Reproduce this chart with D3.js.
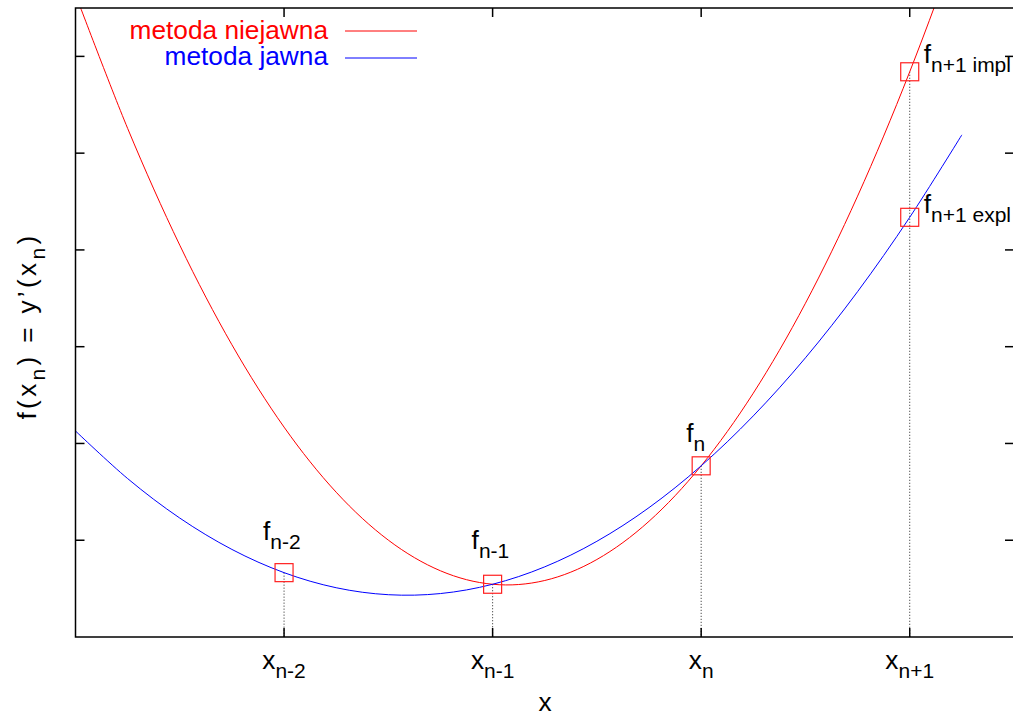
<!DOCTYPE html>
<html>
<head>
<meta charset="utf-8">
<script src="https://cdn.jsdelivr.net/npm/d3@7"></script>
<style>
  html, body { margin: 0; padding: 0; background: #fff; }
  svg { display: block; }
  text { font-family: "Liberation Sans", Arial, Helvetica, sans-serif; }
</style>
</head>
<body>
<svg id="chart" width="1013" height="714"></svg>
<script>
// ---- data ----
const xTicks = [2, 3, 4, 5];
const xTickSubs = ["n-2", "n-1", "n", "n+1"];
const yTicks = [1, 2, 3, 4, 5, 6];

const curveXImplicit = [1, 1.25, 1.5, 1.75, 2, 2.25, 2.5, 2.75, 3, 3.25, 3.5, 3.75, 4, 4.25, 4.5, 4.75, 5, 5.25, 5.5];
const implicitY = [6.641, 5.256, 4.049, 3.020, 2.169, 1.496, 1.001, 0.684, 0.545, 0.584, 0.801, 1.196, 1.769, 2.520, 3.449, 4.556, 5.841, 7.304, 8.945];

const curveXExplicit = [1, 1.25, 1.5, 1.75, 2, 2.25, 2.5, 2.75, 3, 3.25, 3.5, 3.75, 4, 4.25, 4.5, 4.75, 5, 5.25];
const explicitY = [2.129, 1.637, 1.229, 0.905, 0.665, 0.509, 0.437, 0.449, 0.545, 0.725, 0.989, 1.337, 1.769, 2.285, 2.885, 3.569, 4.337, 5.189];

const pointX = [2, 3, 4, 5, 5];
const pointY = [0.665, 0.545, 1.769, 5.841, 4.337];
const pointSubs = ["n-2", "n-1", "n", "n+1 impl", "n+1 expl"];

const seriesNames = ["metoda niejawna", "metoda jawna"];
const xLabel = "x";

// ---- layout / style ----
const plot = { left: 75.5, right: 1014, top: 8, bottom: 637 };
const colors = ["#ff0000", "#0000ff"];
const mainSize = 25, subSize = 20, subShift = 9, hScale = 1.05;
// label offsets (pixels) relative to each point: [dx to left edge, dy to baseline]
const labelOffsets = [[-21, -33], [-21, -35], [-15, -24], [14, -9], [14, -4]];

const svg = d3.select("#chart");
const x = d3.scaleLinear().domain([1, 5.5]).range([plot.left, plot.right]);
const y = d3.scaleLinear().domain([0, 6.5]).range([plot.bottom, plot.top]);

svg.append("defs").append("clipPath").attr("id", "clip")
  .append("rect")
  .attr("x", plot.left).attr("y", plot.top)
  .attr("width", plot.right - plot.left).attr("height", plot.bottom - plot.top);

function subText(g, main, sub, anchor) {
  const t = g.append("text").attr("text-anchor", anchor || "start")
    .attr("font-size", mainSize).attr("fill", "#000");
  t.append("tspan").text(main);
  if (sub) t.append("tspan").attr("font-size", subSize).attr("dy", subShift).text(sub);
  return t;
}

// dotted vertical lines
const dropX = xTicks.map(v => ({ xv: v, yv: d3.max(pointX.map((px, i) => px === v ? pointY[i] : -Infinity)) }));
svg.append("g").selectAll("line").data(dropX).join("line")
  .attr("x1", d => x(d.xv)).attr("x2", d => x(d.xv))
  .attr("y1", d => y(d.yv)).attr("y2", plot.bottom)
  .attr("stroke", "#222").attr("stroke-width", 1).attr("stroke-dasharray", "1,2");

// curves
const line = d3.line().curve(d3.curveCardinal.tension(0));
const curves = svg.append("g").attr("clip-path", "url(#clip)");
curves.append("path")
  .attr("d", line(curveXImplicit.map((v, i) => [x(v), y(implicitY[i])])))
  .attr("fill", "none").attr("stroke", colors[0]).attr("stroke-width", 1);
curves.append("path")
  .attr("d", line(curveXExplicit.map((v, i) => [x(v), y(explicitY[i])])))
  .attr("fill", "none").attr("stroke", colors[1]).attr("stroke-width", 1);

// point squares
const sq = 18;
svg.append("g").selectAll("rect").data(pointX).join("rect")
  .attr("x", (d) => x(d) - sq / 2)
  .attr("y", (d, i) => y(pointY[i]) - sq / 2)
  .attr("width", sq).attr("height", sq)
  .attr("fill", "none").attr("stroke", "#ff2020").attr("stroke-width", 1.2);

// point labels
pointX.forEach((d, i) => {
  const g = svg.append("g")
    .attr("transform", `translate(${x(d) + labelOffsets[i][0]},${y(pointY[i]) + labelOffsets[i][1]}) scale(${hScale},1)`);
  subText(g, "f", pointSubs[i], "start");
});

// frame
svg.append("rect")
  .attr("x", plot.left).attr("y", plot.top)
  .attr("width", plot.right - plot.left).attr("height", plot.bottom - plot.top)
  .attr("fill", "none").attr("stroke", "#000").attr("stroke-width", 1.5);

// ticks (inward, all four sides)
const tl = 9;
const ticks = svg.append("g").attr("stroke", "#000").attr("stroke-width", 1.5);
xTicks.forEach(v => {
  ticks.append("line").attr("x1", x(v)).attr("x2", x(v)).attr("y1", plot.bottom).attr("y2", plot.bottom - tl);
  ticks.append("line").attr("x1", x(v)).attr("x2", x(v)).attr("y1", plot.top).attr("y2", plot.top + tl);
});
yTicks.forEach(v => {
  ticks.append("line").attr("x1", plot.left).attr("x2", plot.left + tl).attr("y1", y(v)).attr("y2", y(v));
  ticks.append("line").attr("x1", plot.right).attr("x2", plot.right - tl).attr("y1", y(v)).attr("y2", y(v));
});

// x tick labels
xTicks.forEach((v, i) => {
  const g = svg.append("g").attr("transform", `translate(${x(v)},669) scale(${hScale},1)`);
  subText(g, "x", xTickSubs[i], "middle");
});

// x axis label
svg.append("g").attr("transform", `translate(545,711) scale(${hScale},1)`)
  .append("text").attr("text-anchor", "middle").attr("font-size", mainSize).text(xLabel);

// y axis label
{
  const g = svg.append("g").attr("transform", `translate(36,326) rotate(-90) scale(${hScale},1)`);
  const t = g.append("text").attr("text-anchor", "middle").attr("font-size", mainSize);
  t.append("tspan").text("f(x");
  t.append("tspan").attr("font-size", subSize).attr("dy", subShift).text("n");
  t.append("tspan").attr("dy", -subShift).text(") = y\u2019(x");
  t.append("tspan").attr("font-size", subSize).attr("dy", subShift).text("n");
  t.append("tspan").attr("dy", -subShift).text(")");
  const w = t.node().getBBox().width;
  const target = 187 / hScale;
  const nChars = "f(xn) = y\u2019(xn)".length;
  const ls = (target - w) / nChars;
  if (ls > 0) t.attr("letter-spacing", ls);
}

// legend
const legY = [39, 65];
const legLineY = [31, 58];
seriesNames.forEach((name, i) => {
  svg.append("g").attr("transform", `translate(328,${legY[i]}) scale(${hScale},1)`)
    .append("text").attr("text-anchor", "end").attr("font-size", mainSize)
    .attr("fill", colors[i]).text(name);
  svg.append("line").attr("x1", 345).attr("x2", 417).attr("y1", legLineY[i]).attr("y2", legLineY[i])
    .attr("stroke", colors[i]).attr("stroke-width", 1);
});
</script>
</body>
</html>
